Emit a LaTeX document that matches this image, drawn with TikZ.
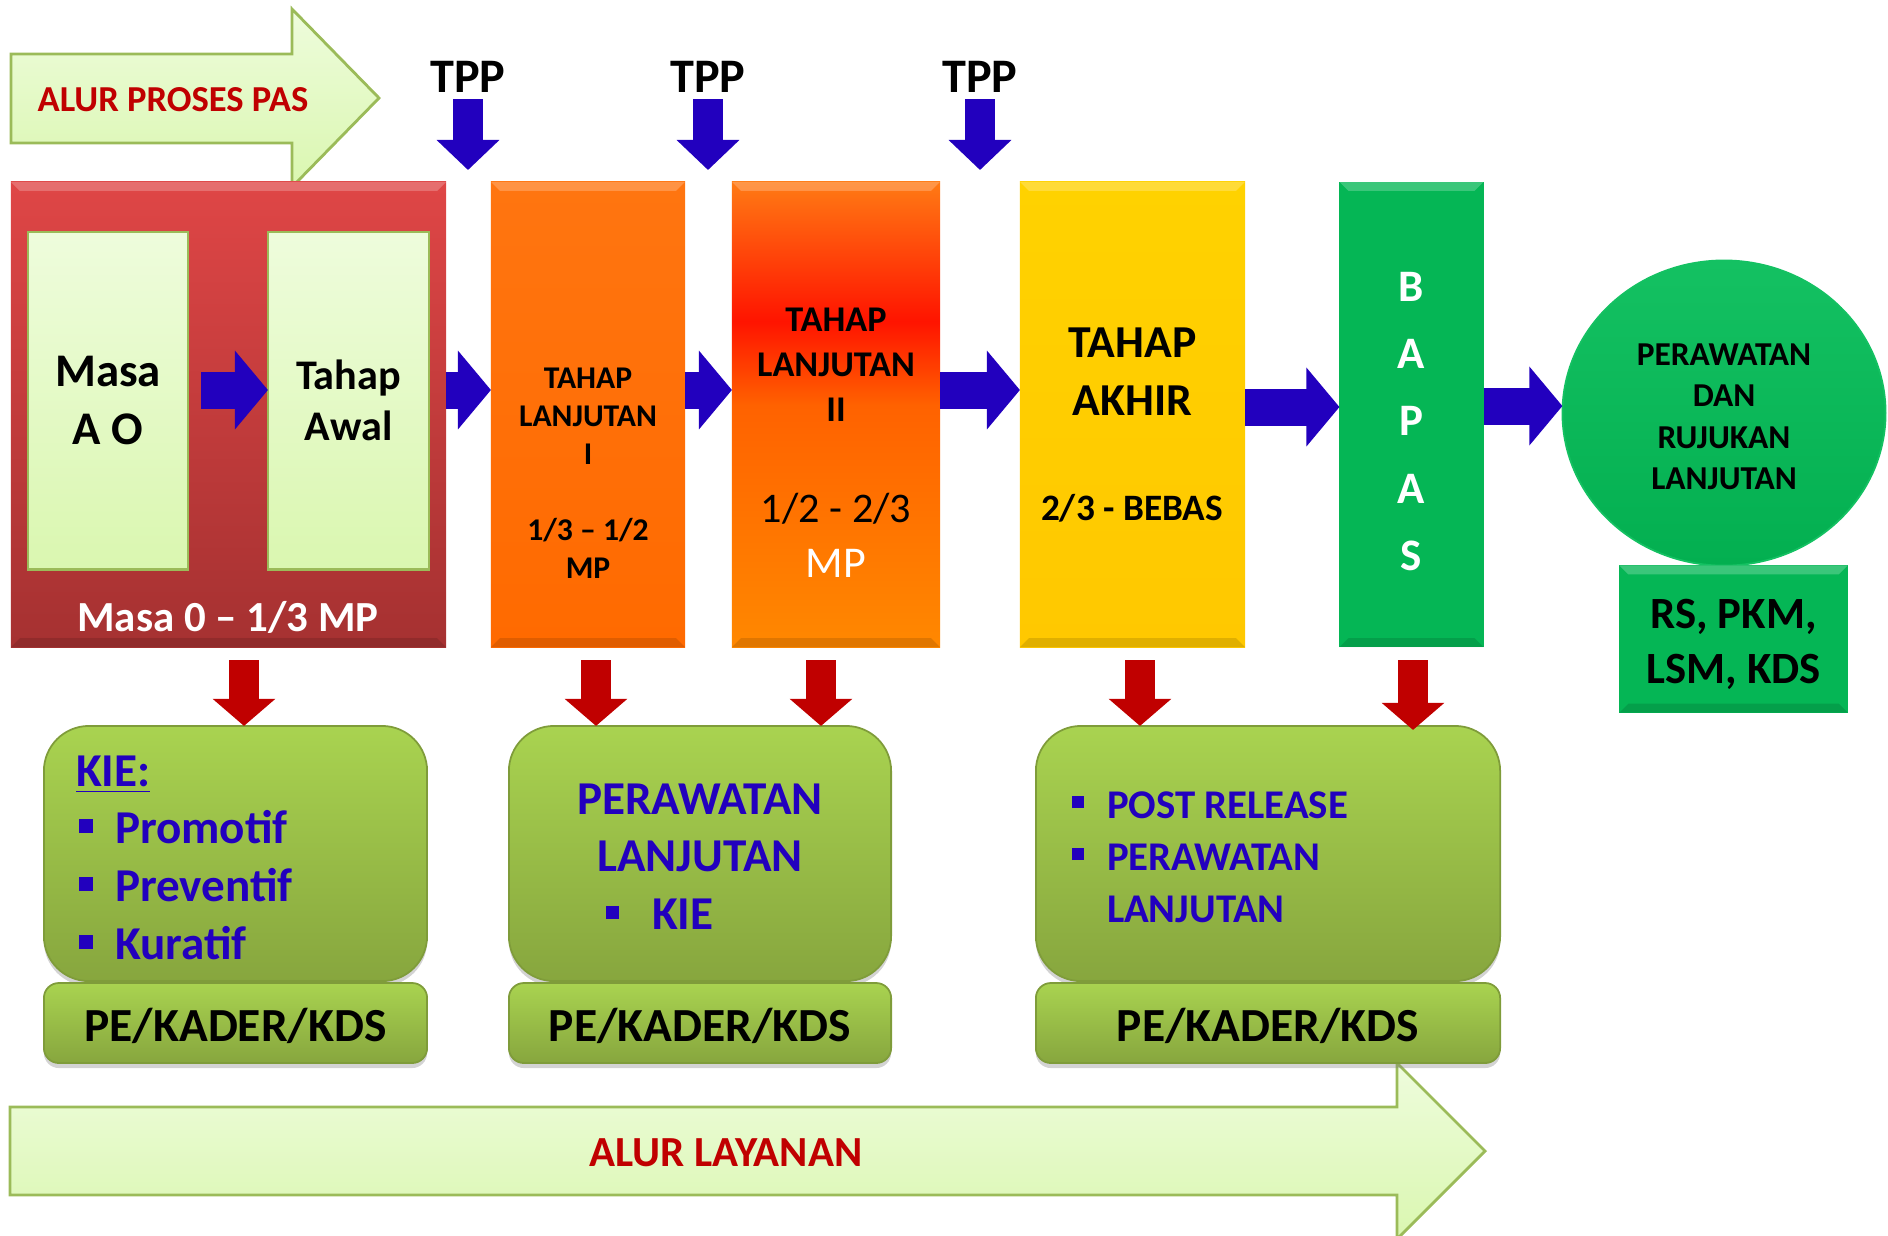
\documentclass[tikz,border=0pt]{standalone}
\usepackage{fontspec}
\setmainfont{Carlito}
\usetikzlibrary{calc,arrows.meta,shapes.geometric,shadows}

\definecolor{pasred}{HTML}{C00000}
\definecolor{pasblue}{HTML}{2200BE}
\definecolor{redtop}{HTML}{DF4646}
\definecolor{redbot}{HTML}{A53131}
\definecolor{palegreen}{HTML}{EEFCDC}
\definecolor{palegreenb}{HTML}{DAF7B0}
\definecolor{paleedge}{HTML}{9BBB59}
\definecolor{oonetop}{HTML}{FF7510}
\definecolor{oonebot}{HTML}{FF6A00}
\definecolor{otop}{HTML}{FF7A14}
\definecolor{ored}{HTML}{FF1400}
\definecolor{omid}{HTML}{FF6200}
\definecolor{obot}{HTML}{FF8800}
\definecolor{ytop}{HTML}{FFD200}
\definecolor{ybot}{HTML}{FFC800}
\definecolor{bapasgreen}{HTML}{05B655}
\definecolor{gtop}{HTML}{14C162}
\definecolor{gbot}{HTML}{03AF50}
\definecolor{olivetop}{HTML}{A9D350}
\definecolor{olivebot}{HTML}{87A63E}
\definecolor{oliveedge}{HTML}{7F9C3A}

\pgfdeclareverticalshading{tahapdua}{100bp}{color(0bp)=(obot); color(25bp)=(obot); color(51bp)=(omid); color(60bp)=(ored); color(75bp)=(otop); color(100bp)=(otop)}

\newcommand{\sqbul}[1]{\rule[0.1cm]{#1}{#1}}
\newcommand{\stagebevel}[1]{%
	\fill[white,opacity=0.22] (#1.north west) -- (#1.north east) -- ($(#1.north east)+(-9,9)$) -- ($(#1.north west)+(9,9)$) -- cycle;
	\fill[black,opacity=0.12] (#1.south west) -- (#1.south east) -- ($(#1.south east)+(-9,-9)$) -- ($(#1.south west)+(9,-9)$) -- cycle;}

\begin{document}
\begin{tikzpicture}[x=0.01cm,y=-0.01cm,
		stagebox/.style={inner sep=0pt,outer sep=0pt},
		inbox/.style={stagebox,draw=paleedge,line width=0.8pt,top color=palegreen,bottom color=palegreenb,align=center},
		olivebox/.style={stagebox,draw=oliveedge,line width=0.5pt,top color=olivetop,bottom color=olivebot,
			drop shadow={shadow xshift=0cm,shadow yshift=-0.05cm,opacity=0.35}},
		pathway/.style={draw=paleedge,line width=0.8pt,top color=palegreen,bottom color=palegreenb},
		bluepush/.style={line width=0.37cm,pasblue,-{Triangle[length=0.33cm,width=0.77cm]}},
		tpppush/.style={line width=0.30cm,pasblue,-{Triangle[length=0.30cm,width=0.61cm]}},
		redpush/.style={line width=0.30cm,pasred,-{Triangle[length=0.27cm,width=0.61cm]}},
		txt/.style={inner sep=0pt,outer sep=0pt,align=center},
		item/.style={inner sep=0pt,outer sep=0pt,anchor=base west,text=pasblue},
		itemA/.style={item,font=\fontsize{13.4}{16}\selectfont\bfseries},
		itemC/.style={item,font=\fontsize{11.6}{14}\selectfont\bfseries}]
		\useasboundingbox (0,0) rectangle (1888,1235);

		\draw[pathway] (11,54) -- (292,54) -- (292,9) -- (379,98) -- (292,187) -- (292,143) -- (11,143) -- cycle;
		\node[txt,text=pasred,font=\fontsize{10.4}{13}\selectfont\bfseries] (alurpas) at (173,100) {ALUR PROSES PAS};

		\node[txt,font=\fontsize{13.7}{16}\selectfont\bfseries] (tpp1) at (468,77) {TPP};
		\node[txt,font=\fontsize{13.7}{16}\selectfont\bfseries] (tpp2) at (708,77) {TPP};
		\node[txt,font=\fontsize{13.7}{16}\selectfont\bfseries] (tpp3) at (980,77) {TPP};
		\coordinate (gap1) at (468,170);
		\coordinate (gap2) at (708,170);
		\coordinate (gap3) at (980,170);
		\draw[tpppush,shorten <=0.065cm] (tpp1.south) -- (gap1);
		\draw[tpppush,shorten <=0.065cm] (tpp2.south) -- (gap2);
		\draw[tpppush,shorten <=0.065cm] (tpp3.south) -- (gap3);

		\node[stagebox,top color=redtop,bottom color=redbot,minimum width=4.35cm,minimum height=4.65cm] (masa0) at (228.5,414.5) {};
		\stagebevel{masa0}
		\node[inbox,minimum width=1.60cm,minimum height=3.37cm,font=\fontsize{13.3}{16.5}\selectfont\bfseries] (masaao) at (108,400.5) {Masa\\A O};
		\node[inbox,minimum width=1.61cm,minimum height=3.37cm,font=\fontsize{12}{14.5}\selectfont\bfseries] (awal) at (348.5,400.5) {Tahap\\Awal};
		\node[txt,text=white,font=\fontsize{12.2}{14}\selectfont\bfseries] (masalabel) at (228,617) {Masa 0 – 1/3 MP};

		\node[stagebox,top color=oonetop,bottom color=oonebot,minimum width=1.94cm,minimum height=4.65cm] (lanj1) at (588,414.5) {};
		\stagebevel{lanj1}
		\node[txt,font=\fontsize{9}{10.8}\selectfont\bfseries] (lanj1txt) at (588,473.5) {TAHAP\\LANJUTAN\\I\\[10.8pt]1/3 – 1/2\\MP};

		\node[stagebox,shading=tahapdua,minimum width=2.08cm,minimum height=4.65cm] (lanj2) at (836,414.5) {};
		\stagebevel{lanj2}
		\node[txt,font=\fontsize{10.3}{12.8}\selectfont\bfseries] (lanj2txt) at (836,365) {TAHAP\\LANJUTAN\\II};
		\node[txt,font=\fontsize{12}{14}\selectfont] (lanj2mp) at (836,509) {1/2 - 2/3};
		\node[txt,text=white,font=\fontsize{12.5}{14}\selectfont] (lanj2mpw) at (836,563) {MP};

		\node[stagebox,top color=ytop,bottom color=ybot,minimum width=2.25cm,minimum height=4.65cm] (akhir) at (1132.5,414.5) {};
		\stagebevel{akhir}
		\node[txt,font=\fontsize{13}{16.5}\selectfont\bfseries] (akhirtxt) at (1132.5,372) {TAHAP\\AKHIR};
		\node[txt,font=\fontsize{10.6}{13}\selectfont\bfseries] (bebas) at (1132,508) {2/3 - BEBAS};

		\node[stagebox,fill=bapasgreen,minimum width=1.44cm,minimum height=4.65cm] (bapas) at (1411.5,414.5) {};
		\stagebevel{bapas}
		\node[txt,text=white,font=\fontsize{12.8}{19.1}\selectfont\bfseries] (bapastxt) at (1411.5,421.5) {B\\A\\P\\A\\S};

		\node[ellipse,inner sep=0pt,outer sep=0pt,top color=gtop,bottom color=gbot,draw=gtop,line width=0.5pt,
			minimum width=3.23cm,minimum height=3.05cm,align=center,font=\fontsize{9.5}{11.8}\selectfont\bfseries] (rujukan) at (1724,413) {};
		\node[txt,font=\fontsize{9.5}{11.8}\selectfont\bfseries] (rujukantxt) at (1724,417) {PERAWATAN\\DAN\\RUJUKAN\\LANJUTAN};
		\node[stagebox,fill=bapasgreen,minimum width=2.28cm,minimum height=1.47cm] (rskds) at (1733.5,639) {};
		\stagebevel{rskds}
		\node[txt,font=\fontsize{12.7}{15.6}\selectfont\bfseries] (rskdstxt) at (1733.5,644) {RS, PKM,\\LSM, KDS};

		\draw[bluepush,shorten <=0.13cm] ($(masaao.east)+(0,-10.5)$) -- ($(awal.west)+(0,-10.5)$);
		\draw[bluepush] ($(masa0.east)+(0,-24.5)$) -- ($(lanj1.west)+(0,-24.5)$);
		\draw[bluepush] ($(lanj1.east)+(0,-24.5)$) -- ($(lanj2.west)+(0,-24.5)$);
		\draw[bluepush] ($(lanj2.east)+(0,-24.5)$) -- ($(akhir.west)+(0,-24.5)$);
		\draw[bluepush] ($(akhir.east)+(0,-7.5)$) -- ($(bapas.west)+(0,-7.5)$);
		\draw[bluepush] ($(bapas.east)+(0,-8.5)$) -- ($(rujukan.west)+(0,-7)$);

		\draw[pathway] (10,1107) -- (1397,1107) -- (1397,1063) -- (1485,1151) -- (1397,1239) -- (1397,1195) -- (10,1195) -- cycle;
		\node[txt,text=pasred,font=\fontsize{12.2}{14}\selectfont\bfseries] (alurlay) at (726,1153) {ALUR LAYANAN};

		\node[olivebox,rounded corners=0.45cm,minimum width=3.83cm,minimum height=2.55cm] (kie) at (235.5,853.5) {};
		\node[olivebox,rounded corners=0.45cm,minimum width=3.82cm,minimum height=2.55cm] (rawat) at (700,853.5) {};
		\node[olivebox,rounded corners=0.45cm,minimum width=4.64cm,minimum height=2.55cm] (release) at (1268,853.5) {};
		\node[olivebox,rounded corners=0.15cm,minimum width=3.83cm,minimum height=0.80cm] (pe1) at (235.5,1023) {};
		\node[olivebox,rounded corners=0.15cm,minimum width=3.82cm,minimum height=0.80cm] (pe2) at (700,1023) {};
		\node[olivebox,rounded corners=0.15cm,minimum width=4.64cm,minimum height=0.80cm] (pe3) at (1268,1023) {};
		\node[txt,font=\fontsize{13.5}{16}\selectfont\bfseries] (pe1txt) at (235.5,1026) {PE/KADER/KDS};
		\node[txt,font=\fontsize{13.5}{16}\selectfont\bfseries] (pe2txt) at (700,1026) {PE/KADER/KDS};
		\node[txt,font=\fontsize{13.5}{16}\selectfont\bfseries] (pe3txt) at (1268,1026) {PE/KADER/KDS};

		\draw[redpush,shorten <=0.13cm] ($(masa0.south)+(15.5,0)$) -- ($(masa0.south |- kie.north)+(15.5,0)$);
		\draw[redpush,shorten <=0.13cm] ($(lanj1.south)+(8,0)$) -- ($(lanj1.south |- rawat.north)+(8,0)$);
		\draw[redpush,shorten <=0.13cm] ($(lanj2.south)+(-15,0)$) -- ($(lanj2.south |- rawat.north)+(-15,0)$);
		\draw[redpush,shorten <=0.13cm] ($(akhir.south)+(7.5,0)$) -- ($(akhir.south |- release.north)+(7.5,0)$);
		\draw[redpush,shorten <=0.13cm] ($(bapas.south)+(1.5,0)$) -- ($(bapas.south |- release.north)+(1.5,4)$);

		\node[itemA] (kiehead) at (76,786) {\underline{KIE:}};
		\node[itemA] (promotif) at (79,843) {\sqbul{0.14cm}\hspace{0.22cm}Promotif};
		\node[itemA] (preventif) at (79,901) {\sqbul{0.14cm}\hspace{0.22cm}Preventif};
		\node[itemA] (kuratif) at (79,959) {\sqbul{0.14cm}\hspace{0.22cm}Kuratif};

		\node[itemA,anchor=base] (rawat1) at (700,814) {PERAWATAN};
		\node[itemA,anchor=base] (rawat2) at (700,871) {LANJUTAN};
		\node[itemA] (rawatkie) at (606,929) {\sqbul{0.13cm}\hspace{0.33cm}KIE};

		\node[itemC] (postrel) at (1072,818) {\sqbul{0.12cm}\hspace{0.23cm}POST RELEASE};
		\node[itemC] (postrawat) at (1072,870) {\sqbul{0.12cm}\hspace{0.23cm}PERAWATAN};
		\node[itemC] (postlanj) at (1107,922) {LANJUTAN};
	\end{tikzpicture}
\end{document}
